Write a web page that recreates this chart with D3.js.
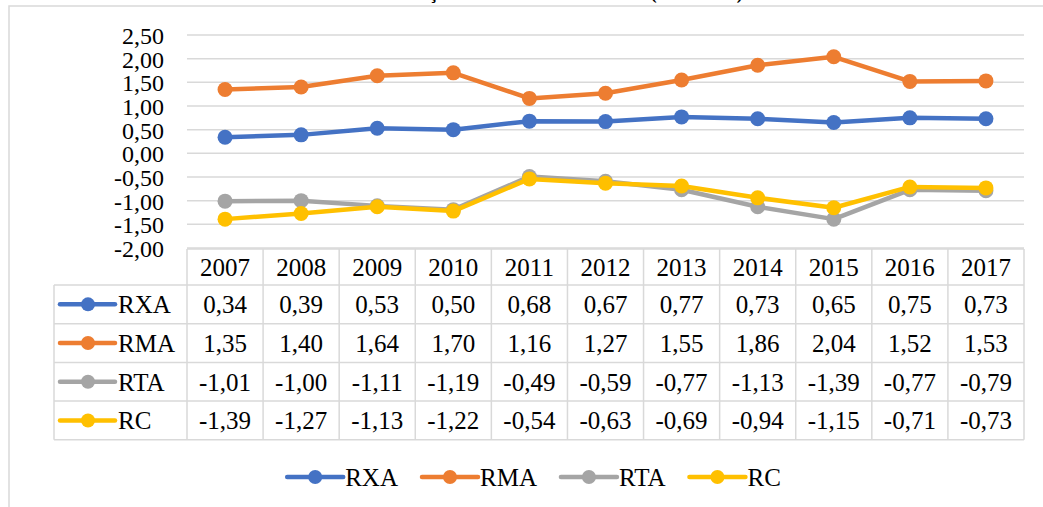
<!DOCTYPE html>
<html>
<head>
<meta charset="utf-8">
<script src="https://cdn.jsdelivr.net/npm/d3@7"></script>
<style>
  body { margin: 0; background: #fff; }
  svg { display: block; font-family: "Liberation Serif", "Times New Roman", serif; }
</style>
</head>
<body>
<svg id="chart" width="1043" height="507"></svg>
<script>
// data
var years = ['2007', '2008', '2009', '2010', '2011', '2012', '2013', '2014', '2015', '2016', '2017'];
var seriesNames = ['RXA', 'RMA', 'RTA', 'RC'];
var seriesColors = ['#4472C4', '#ED7D31', '#A5A5A5', '#FFC000'];
var rxa = [0.34, 0.39, 0.53, 0.50, 0.68, 0.67, 0.77, 0.73, 0.65, 0.75, 0.73];
var rma = [1.35, 1.40, 1.64, 1.70, 1.16, 1.27, 1.55, 1.86, 2.04, 1.52, 1.53];
var rta = [-1.01, -1.00, -1.11, -1.19, -0.49, -0.59, -0.77, -1.13, -1.39, -0.77, -0.79];
var rc = [-1.39, -1.27, -1.13, -1.22, -0.54, -0.63, -0.69, -0.94, -1.15, -0.71, -0.73];
var yTicks = [2.5, 2, 1.5, 1, 0.5, 0, -0.5, -1, -1.5, -2];
var title = 'Evolução dos índices de comércio (2007-2017)';

var series = seriesNames.map(function(name, i) {
  return { name: name, color: seriesColors[i], values: [rxa, rma, rta, rc][i] };
});

var locale = d3.formatLocale({ decimal: ',', thousands: '.', grouping: [3], currency: ['', ''], minus: '-' });
var fmt = locale.format('.2f');

var svg = d3.select('#chart');
var gridColor = '#D9D9D9';
var fs = 25;

// chart frame (right/bottom edges fall outside the picture)
svg.append('rect')
  .attr('x', 9).attr('y', 6)
  .attr('width', 1100).attr('height', 600)
  .attr('fill', 'none')
  .attr('stroke', gridColor)
  .attr('stroke-width', 1.5);

// title, cut off at the top like in the original
svg.append('text')
  .attr('x', 383).attr('y', -1)
  .attr('font-size', 18.5).attr('font-weight', 'bold')
  .text(title);

var x = d3.scaleBand().domain(years).range([187, 1024]);
var y = d3.scaleLinear().domain([-2, 2.5]).range([248, 35]);

// gridlines
svg.append('g').selectAll('line').data(yTicks).enter()
  .append('line')
  .attr('x1', x.range()[0]).attr('x2', x.range()[1])
  .attr('y1', function(d) { return y(d); })
  .attr('y2', function(d) { return y(d); })
  .attr('stroke', gridColor)
  .attr('stroke-width', 1.5);

// y labels (tightly packed, as in the original)
svg.append('g').selectAll('text').data(yTicks).enter()
  .append('text')
  .attr('x', 164)
  .attr('y', function(d) { return y(d) + 9; })
  .attr('text-anchor', 'end')
  .attr('font-size', 24)
  .text(function(d) { return fmt(d); });

// lines and markers
var line = d3.line()
  .x(function(d, i) { return x(years[i]) + x.bandwidth() / 2; })
  .y(function(d) { return y(d); });

var sg = svg.append('g').selectAll('g').data(series).enter().append('g');
sg.append('path')
  .attr('d', function(d) { return line(d.values); })
  .attr('fill', 'none')
  .attr('stroke', function(d) { return d.color; })
  .attr('stroke-width', 4.5)
  .attr('stroke-linejoin', 'round');
sg.selectAll('circle').data(function(d) { return d.values.map(function(v) { return { v: v, c: d.color }; }); })
  .enter().append('circle')
  .attr('cx', function(d, i) { return x(years[i]) + x.bandwidth() / 2; })
  .attr('cy', function(d) { return y(d.v); })
  .attr('r', 7.5)
  .attr('fill', function(d) { return d.c; });

// data table
var tableTop = 249, headH = 36, rowH = 38.7, legendLeft = 54;
var tg = svg.append('g');
var tableBottom = tableTop + headH + rowH * series.length;

// header row
tg.append('g').selectAll('text').data(years).enter()
  .append('text')
  .attr('x', function(d) { return x(d) + x.bandwidth() / 2; })
  .attr('y', tableTop + headH / 2 + 9)
  .attr('text-anchor', 'middle')
  .attr('font-size', fs)
  .text(function(d) { return d; });

var rows = tg.selectAll('g.row').data(series).enter()
  .append('g').attr('class', 'row')
  .attr('transform', function(d, i) { return 'translate(0,' + (tableTop + headH + rowH * i) + ')'; });

rows.append('line')
  .attr('x1', legendLeft + 6).attr('x2', legendLeft + 61)
  .attr('y1', rowH / 2).attr('y2', rowH / 2)
  .attr('stroke', function(d) { return d.color; })
  .attr('stroke-width', 4.5)
  .attr('stroke-linecap', 'round');
rows.append('circle')
  .attr('cx', legendLeft + 34).attr('cy', rowH / 2)
  .attr('r', 7)
  .attr('fill', function(d) { return d.color; });
rows.append('text')
  .attr('x', legendLeft + 64).attr('y', rowH / 2 + 9)
  .attr('font-size', fs)
  .text(function(d) { return d.name; });
rows.selectAll('text.val').data(function(d) { return d.values; }).enter()
  .append('text').attr('class', 'val')
  .attr('x', function(d, i) { return x(years[i]) + x.bandwidth() / 2; })
  .attr('y', rowH / 2 + 9)
  .attr('text-anchor', 'middle')
  .attr('font-size', fs)
  .text(function(d) { return fmt(d); });

// table borders
var hLines = [tableTop].concat(d3.range(series.length + 1).map(function(i) { return tableTop + headH + rowH * i; }));
tg.selectAll('line.h').data(hLines).enter()
  .append('line').attr('class', 'h')
  .attr('x1', function(d, i) { return i === 0 ? x.range()[0] : legendLeft; })
  .attr('x2', x.range()[1])
  .attr('y1', function(d) { return d; }).attr('y2', function(d) { return d; })
  .attr('stroke', gridColor).attr('stroke-width', 1.5);
var vLines = years.map(function(d) { return x(d); }).concat([x.range()[1]]);
tg.selectAll('line.v').data(vLines).enter()
  .append('line').attr('class', 'v')
  .attr('x1', function(d) { return d; }).attr('x2', function(d) { return d; })
  .attr('y1', tableTop).attr('y2', tableBottom)
  .attr('stroke', gridColor).attr('stroke-width', 1.5);
tg.append('line')
  .attr('x1', legendLeft).attr('x2', legendLeft)
  .attr('y1', tableTop + headH).attr('y2', tableBottom)
  .attr('stroke', gridColor).attr('stroke-width', 1.5);

// bottom legend
var lg = svg.append('g');
var items = lg.selectAll('g').data(series).enter().append('g');
items.append('line')
  .attr('x1', 0).attr('x2', 56).attr('y1', 0).attr('y2', 0)
  .attr('stroke', function(d) { return d.color; })
  .attr('stroke-width', 4.5)
  .attr('stroke-linecap', 'round');
items.append('circle')
  .attr('cx', 28).attr('cy', 0).attr('r', 7)
  .attr('fill', function(d) { return d.color; });
items.append('text')
  .attr('x', 58).attr('y', 9)
  .attr('font-size', fs)
  .text(function(d) { return d.name; });
var offset = 0;
items.each(function() {
  var w = this.getBBox().width;
  d3.select(this).attr('data-x', offset);
  offset += w + 24;
});
var total = offset - 24;
var startX = 534 - total / 2;
items.attr('transform', function() {
  return 'translate(' + (startX + (+d3.select(this).attr('data-x'))) + ',477)';
});
</script>
</body>
</html>
